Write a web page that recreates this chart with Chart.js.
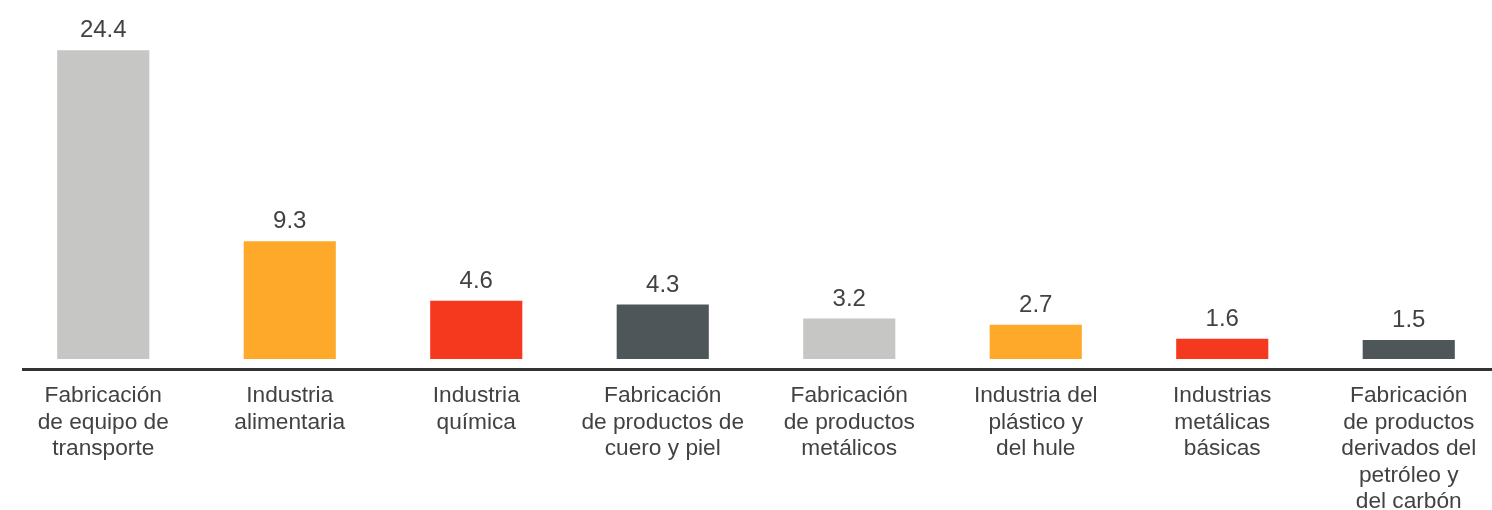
<!DOCTYPE html>
<html>
<head>
<meta charset="utf-8">
<script src="https://cdn.jsdelivr.net/npm/chart.js@4"></script>
<style>
  html, body { margin: 0; padding: 0; background: #fff; overflow: hidden; }
  #wrap { width: 1502px; height: 510px; }
</style>
</head>
<body>
<div id="wrap"><canvas id="myChart"></canvas></div>
<script>
const categories = [
    ["Fabricación", "de equipo de", "transporte"],
    ["Industria", "alimentaria"],
    ["Industria", "química"],
    ["Fabricación", "de productos de", "cuero y piel"],
    ["Fabricación", "de productos", "metálicos"],
    ["Industria del", "plástico y", "del hule"],
    ["Industrias", "metálicas", "básicas"],
    ["Fabricación", "de productos", "derivados del", "petróleo y", "del carbón"]
];
const values = [24.4, 9.3, 4.6, 4.3, 3.2, 2.7, 1.6, 1.5];
const barColors = ["#c6c6c5", "#ffa92a", "#f5391f", "#4e5659", "#c6c6c5", "#ffa92a", "#f5391f", "#4e5659"];

const textColor = "#424242";
const fontFamily = "'Liberation Sans', Arial, Helvetica, sans-serif";

// etiquetas de valor arriba de cada barra + linea del eje
const extras = {
    id: "extras",
    afterDatasetsDraw(chart) {
        const c = chart.ctx;
        const meta = chart.getDatasetMeta(0);
        c.save();
        c.fillStyle = textColor;
        c.font = "24px " + fontFamily;
        c.textAlign = "center";
        c.textBaseline = "alphabetic";
        meta.data.forEach((bar, i) => {
            c.fillText(values[i].toFixed(1), bar.x, bar.y - 13);
        });
        const y = chart.chartArea.bottom;
        c.strokeStyle = "#333333";
        c.lineWidth = 3;
        c.beginPath();
        c.moveTo(22, y);
        c.lineTo(chart.width, y);
        c.stroke();
        c.restore();
    }
};

new Chart(document.querySelector("#myChart"), {
    type: "bar",
    data: {
        labels: categories,
        datasets: [{
            data: values,
            backgroundColor: barColors,
            borderWidth: 0,
            barPercentage: 0.494,
            categoryPercentage: 1
        }]
    },
    options: {
        responsive: true,
        maintainAspectRatio: false,
        animation: false,
        layout: { padding: { left: 10, right: 0, top: 30, bottom: 0 } },
        plugins: { legend: { display: false }, tooltip: { enabled: false } },
        scales: {
            x: {
                grid: { display: false, drawTicks: false },
                border: { display: false },
                ticks: {
                    color: textColor,
                    font: { family: fontFamily, size: 22.7, lineHeight: 1.17 },
                    padding: 13,
                    maxRotation: 0,
                    autoSkip: false
                },
                afterFit(scale) { scale.height = 140.5; }
            },
            y: {
                display: false,
                min: -0.83,
                max: 26
            }
        }
    },
    plugins: [extras]
});
</script>
</body>
</html>
